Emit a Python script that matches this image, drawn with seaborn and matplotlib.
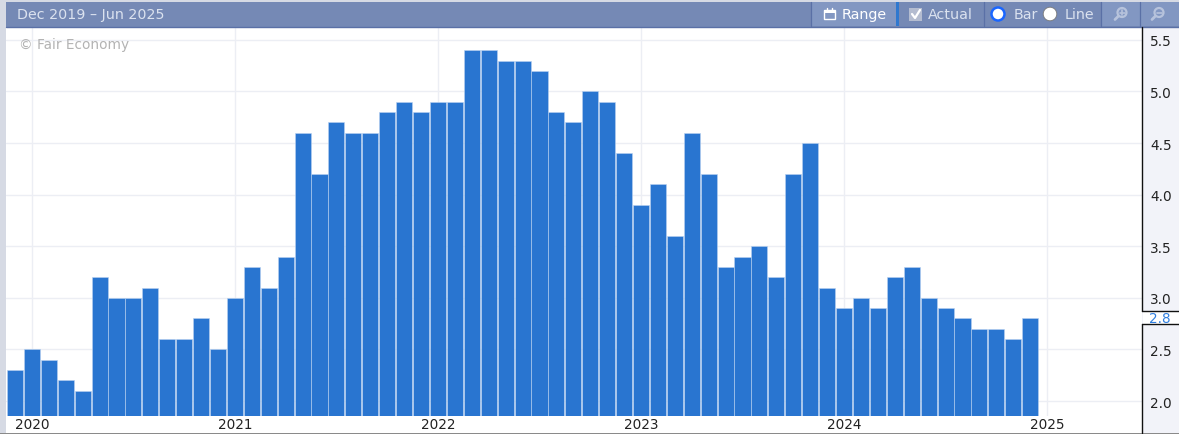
import matplotlib
matplotlib.use('Agg')
import matplotlib.pyplot as plt
from matplotlib.patches import Rectangle, Circle
import pandas as pd
import seaborn as sns

# Values (monthly, one bar per month)
values = [2.3, 2.5, 2.4, 2.2, 2.1, 3.2, 3.0, 3.0, 3.1, 2.6, 2.6, 2.8, 2.5,
          3.0, 3.3, 3.1, 3.4, 4.6, 4.2, 4.7, 4.6, 4.6, 4.8, 4.9, 4.8,
          4.9, 4.9, 5.4, 5.4, 5.3, 5.3, 5.2, 4.8, 4.7, 5.0, 4.9, 4.4,
          3.9, 4.1, 3.6, 4.6, 4.2, 3.3, 3.4, 3.5, 3.2, 4.2, 4.5, 3.1,
          2.9, 3.0, 2.9, 3.2, 3.3, 3.0, 2.9, 2.8, 2.7, 2.7, 2.6, 2.8]
months = list(range(len(values)))
year_labels = ['2020', '2021', '2022', '2023', '2024', '2025']
year_ticks = [1, 13, 25, 37, 49, 61]
y_ticks = [2.0, 2.5, 3.0, 3.5, 4.0, 4.5, 5.0, 5.5]

W, H = 1179, 435
HEADER = '#7589b5'
BAR = '#2975d0'
GRID = '#eceef4'
LIGHT = '#dbe2ef'
FS_HEAD = 10.3

sns.set_theme(style='white')
plt.rcParams['font.family'] = ['DejaVu Sans']

df = pd.DataFrame({'month': months, 'value': values})

fig = plt.figure(figsize=(W / 100, H / 100), dpi=100, facecolor='white')
ax = fig.add_axes([6 / W, (H - 417) / H, 1136 / W, 389 / H])

sns.barplot(data=df, x='month', y='value', color=BAR, saturation=1, width=0.95,
            edgecolor='#b9d2f0', linewidth=0.4, ax=ax, zorder=3)

ax.set_xlim(-0.53, 66.61)
ax.set_ylim(1.855, 5.625)
ax.set_xlabel('')
ax.set_ylabel('')
ax.set_xticks(year_ticks)
ax.set_xticklabels(year_labels, fontsize=9.8, color='#222222')
ax.set_yticks(y_ticks)
ax.set_yticklabels([f'{v:.1f}' for v in y_ticks], fontsize=9.8, color='#222222')
ax.yaxis.tick_right()
ax.tick_params(axis='x', length=0, pad=1)
ax.tick_params(axis='y', length=0, pad=6)
ax.grid(True, color=GRID, linewidth=1.0, zorder=0)
ax.set_axisbelow(True)
sns.despine(ax=ax, left=True, bottom=True, top=True, right=True)

# Chrome layer in pixel coordinates (page background, header bar, right scale)
chrome = fig.add_axes([0, 0, 1, 1], zorder=-1)
chrome.set_xlim(0, W)
chrome.set_ylim(H, 0)
chrome.axis('off')
chrome.add_patch(Rectangle((0, 0), 6, H, color='#d6dae4', lw=0))
chrome.add_patch(Rectangle((0, 0), W, 3, color='#d6dae4', lw=0))
chrome.add_patch(Rectangle((1142, 28), 37, 406, color='#f2f3f9', lw=0))
chrome.add_patch(Rectangle((0, 433.5), W, 1.5, color='#8a8a8a', lw=0))
ax.patch.set_alpha(0)

top = fig.add_axes([0, 0, 1, 1], zorder=5)
top.set_xlim(0, W)
top.set_ylim(H, 0)
top.axis('off')
top.patch.set_alpha(0)

# header bar
top.add_patch(Rectangle((6, 3), W - 6, 25, color=HEADER, lw=0))
top.plot([6, W], [27.5, 27.5], color='#5a70a6', lw=1)
top.add_patch(Rectangle((811, 3), 86, 24, color='#8297c2', lw=0))
top.add_patch(Rectangle((896, 3), 3, 24, color='#2f78cf', lw=0))
top.add_patch(Rectangle((1101, 3), 78, 24, color='#8297c2', lw=0))
for sep in [811, 984, 1101, 1140]:
    top.plot([sep, sep], [3, 27], color='#5a70a6', lw=0.9)

top.text(17, 15, 'Dec 2019 – Jun 2025', color=LIGHT, fontsize=FS_HEAD, va='center')
top.text(842, 15, 'Range', color='white', fontsize=FS_HEAD, va='center')
top.text(928, 15, 'Actual', color=LIGHT, fontsize=FS_HEAD, va='center')
top.text(1014, 15, 'Bar', color=LIGHT, fontsize=FS_HEAD, va='center')
top.text(1065, 15, 'Line', color=LIGHT, fontsize=FS_HEAD, va='center')

# calendar icon
top.add_patch(Rectangle((824, 11), 11, 9, fill=False, ec='white', lw=1))
top.add_patch(Rectangle((824, 11), 11, 3, color='white', lw=0))
top.plot([827, 827], [8.5, 11], color='white', lw=1)
top.plot([832, 832], [8.5, 11], color='white', lw=1)

# checkbox
top.add_patch(Rectangle((909, 9), 13, 13, color='#b4bcd0', lw=0))
top.plot([912, 915, 920], [15, 19, 11], color='white', lw=1.6)

# radios
top.add_patch(Circle((998, 15), 6.5, fc='white', ec='#1a66ff', lw=1.8))
top.add_patch(Circle((1050, 15), 6.8, fc='white', ec='#777777', lw=0.6))

# zoom icons
for cx, sign in [(1122, '+'), (1159, '-')]:
    top.add_patch(Circle((cx, 13.5), 4.5, fill=False, ec='#b7c3dc', lw=1.6))
    top.plot([cx - 3.5, cx - 7], [17, 20.5], color='#b7c3dc', lw=2)
    top.plot([cx - 2.5, cx + 2.5], [13.5, 13.5], color='#b7c3dc', lw=1.2)
    if sign == '+':
        top.plot([cx, cx], [11, 16], color='#b7c3dc', lw=1.2)

top.text(19, 44.5, '© Fair Economy', color='#b3b3b3', fontsize=9.8, va='center')

# right scale line, broken around the current value label
label_y = H - ax.transData.transform((0, values[-1]))[1]
top.plot([1142, 1142], [28, label_y - 7], color='#111111', lw=1)
top.plot([1142, 1142], [label_y + 6, 434], color='#111111', lw=1)
top.plot([1142, W], [label_y - 7, label_y - 7], color='#111111', lw=1)
top.plot([1142, W], [label_y + 6, label_y + 6], color='#111111', lw=1)
top.add_patch(Rectangle((1143, label_y - 6.5), 36, 12, color='white', lw=0))
top.text(1149, label_y - 0.5, f'{values[-1]:.1f}', color='#2f7fe0', fontsize=9.8, va='center')

fig.savefig('out.png', dpi=100)
